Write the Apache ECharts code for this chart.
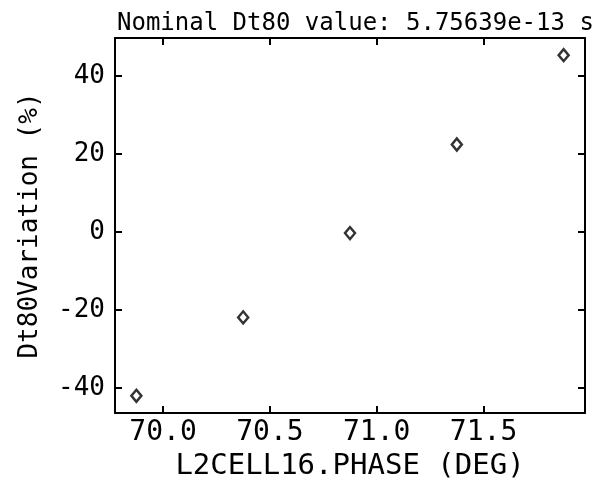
<!DOCTYPE html>
<html>
<head>
<meta charset="utf-8">
<script src="https://cdn.jsdelivr.net/npm/echarts@6/dist/echarts.min.js"></script>
<style>
  html, body { margin: 0; padding: 0; background: #fff; }
  #chart { width: 592px; height: 493px; }
</style>
</head>
<body>
<div id="chart"></div>
<script>
// values
const phaseDeg = [69.875, 70.375, 70.875, 71.375, 71.875];
const dt80Variation = [-42.0, -21.9, -0.3, 22.4, 45.3];

const xTicks = [70.0, 70.5, 71.0, 71.5];
const yTicks = [-40, -20, 0, 20, 40];
const xRange = [69.775, 71.975];
const yRange = [-46.4, 49.7];

const titleText = "Nominal Dt80 value: 5.75639e-13 s";
const xName = "L2CELL16.PHASE (DEG)";
const yName = "Dt80Variation (%)";

const font = "'DejaVu Sans Mono', monospace";
const ink = "#000";

const frameAxis = (extra) => Object.assign({
  type: "value",
  axisLine: { show: true, onZero: false, lineStyle: { color: ink, width: 2 } },
  splitLine: { show: false },
}, extra);

const tickStyle = (values) => ({
  show: true,
  inside: true,
  length: 7,
  customValues: values,
  lineStyle: { color: ink, width: 2 },
});

const chart = echarts.init(document.getElementById("chart"));

chart.setOption({
  animation: false,
  backgroundColor: "#fff",
  title: {
    text: titleText,
    left: 112,
    top: 7,
    textStyle: { fontFamily: font, fontSize: 24, fontWeight: "normal", color: ink },
  },
  grid: { left: 115, right: 7, top: 38, bottom: 80, containLabel: false },
  xAxis: [
    frameAxis({
      position: "bottom",
      min: xRange[0],
      max: xRange[1],
      name: xName,
      nameLocation: "middle",
      nameGap: 38,
      nameTextStyle: { fontFamily: font, fontSize: 29, color: ink },
      axisTick: tickStyle(xTicks),
      axisLabel: {
        customValues: xTicks,
        margin: 6,
        fontFamily: font,
        fontSize: 28,
        color: ink,
        formatter: (v) => v.toFixed(1),
      },
    }),
    frameAxis({
      position: "top",
      min: xRange[0],
      max: xRange[1],
      axisTick: tickStyle(xTicks),
      axisLabel: { show: false },
    }),
  ],
  yAxis: [
    frameAxis({
      position: "left",
      min: yRange[0],
      max: yRange[1],
      name: yName,
      nameLocation: "middle",
      nameRotate: 90,
      nameGap: 72,
      nameTextStyle: { fontFamily: font, fontSize: 26, color: ink },
      axisTick: tickStyle(yTicks),
      axisLabel: {
        customValues: yTicks,
        margin: 10,
        fontFamily: font,
        fontSize: 26,
        color: ink,
      },
    }),
    frameAxis({
      position: "right",
      min: yRange[0],
      max: yRange[1],
      axisTick: tickStyle(yTicks),
      axisLabel: { show: false },
    }),
  ],
  series: [
    {
      type: "scatter",
      xAxisIndex: 0,
      yAxisIndex: 0,
      data: phaseDeg.map((x, i) => [x, dt80Variation[i]]),
      symbol: "diamond",
      symbolSize: [10, 12],
      itemStyle: { color: "#fff", borderColor: ink, borderWidth: 2.5 },
    },
  ],
});
</script>
</body>
</html>
